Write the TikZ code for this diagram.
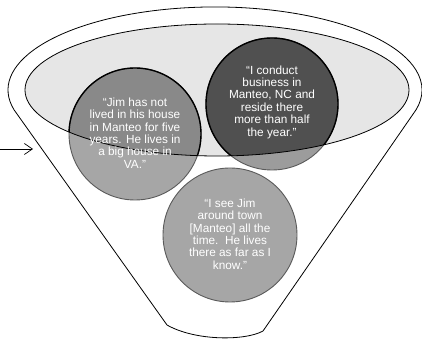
\documentclass[tikz,border=0pt]{standalone}
\usepackage{fontspec}
\setmainfont{Liberation Sans}
\usetikzlibrary{arrows.meta}
\definecolor{ellfill}{HTML}{E6E6E6}
\definecolor{patgray}{HTML}{A6A6A6}
\definecolor{patgraydk}{HTML}{9C9C9C}
\definecolor{midgray}{HTML}{898989}
\definecolor{deepgray}{HTML}{505050}
\definecolor{rimgray}{HTML}{5A5A5A}
\begin{document}
\begin{tikzpicture}[x=1pt,y=1pt,
  quote/.style={text=white, align=center, font=\fontsize{11.8}{12.4}\selectfont, inner sep=0pt},
  funnelline/.style={draw=black, line width=0.8pt, fill=white},
  patcircle/.style={fill=patgray, draw=rimgray, line width=0.9pt},
  topcircle/.style={draw=black, line width=1.4pt}]
\useasboundingbox (0,0) rectangle (422,339);
\coordinate (ic) at (217,249);
\coordinate (c1) at (135,205);
\coordinate (c2) at (272,235);
\coordinate (c3) at (230,104);
% funnel outline
\draw[funnelline] (14.1,229.1) arc[start angle=193.9, end angle=-13.9, x radius=207, y radius=83]
  -- (263,8) .. controls (245,-2) and (195,-2) .. (167,14) -- cycle;
% inner ellipse fill
\fill[ellfill] (ic) ellipse[x radius=192, y radius=66];
% circles (patterned parts)
\filldraw[patcircle] (c1) circle[radius=66];
\filldraw[patcircle, fill=patgraydk] (c2) circle[radius=66];
\filldraw[patcircle] (c3) circle[radius=67];
% parts inside the ellipse
\begin{scope}
  \clip (ic) ellipse[x radius=192, y radius=66];
  \filldraw[topcircle, fill=midgray] (c1) circle[radius=66];
  \filldraw[topcircle, fill=deepgray] (c2) circle[radius=66];
\end{scope}
\draw[line width=0.8pt] (ic) ellipse[x radius=192, y radius=66];
% texts
\node[quote] (t1) at (135,206) {“Jim has not\\lived in his house\\in Manteo for five\\years. He lives in\\a big house in\\VA.”};
\node[quote] (t2) at (272,237) {“I conduct\\business in\\Manteo, NC and\\reside there\\more than half\\the year.”};
\node[quote] (t3) at (230,105) {“I see Jim\\around town\\{[}Manteo{]} all the\\time.\ \ He lives\\there as far as I\\know.”};
% arrow
\coordinate (aS) at (0,190);
\coordinate (aE) at (33,190);
\draw[line width=0.7pt, -{Straight Barb[length=8pt,width=11pt]}] (aS) -- (aE);
\end{tikzpicture}
\end{document}
